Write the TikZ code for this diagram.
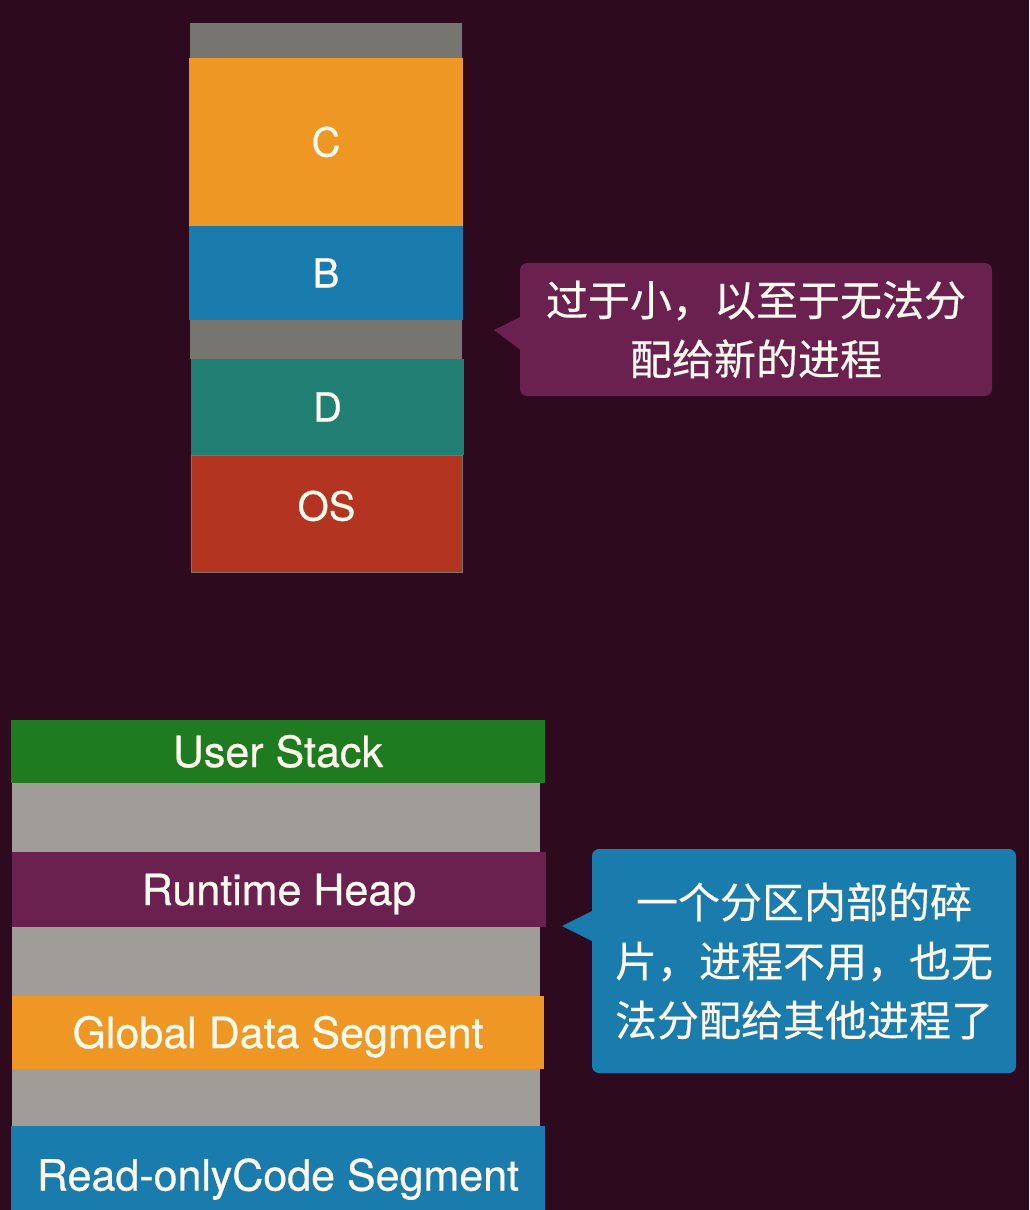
\documentclass[tikz,border=0pt]{standalone}
\usepackage{fontspec}
\setmainfont{TeX Gyre Heros}[FakeBold=0.6]
\newfontfamily\cjk{Noto Sans CJK SC}[FakeBold=0.4]
\definecolor{bgc}{HTML}{2D0A1D}
\definecolor{graytop}{HTML}{77756F}
\definecolor{orangec}{HTML}{EE9724}
\definecolor{bluec}{HTML}{1A7BAD}
\definecolor{tealc}{HTML}{217F73}
\definecolor{redc}{HTML}{B23421}
\definecolor{greenc}{HTML}{1F7B1F}
\definecolor{purplec}{HTML}{6A2150}
\definecolor{lgray}{HTML}{A09D98}
\definecolor{txtc}{HTML}{FFF9EE}
\tikzset{
  blk/.style={anchor=north west, inner sep=0pt, outer sep=0pt, text=txtc},
  toplbl/.style={font=\fontsize{40}{48}\selectfont, text height=29pt, text depth=0pt},
  botlbl/.style={font=\fontsize{43}{50}\selectfont, text height=31pt, text depth=0pt},
  callbox/.style={anchor=north west, inner sep=0pt, outer sep=0pt, rounded corners=7pt,
     text=txtc, align=center, font={\cjk\fontsize{42}{59}\selectfont}},
}
\begin{document}
\begin{tikzpicture}[x=1pt,y=-1pt]
\path[use as bounding box, clip] (0,0) rectangle (1029,1210);
\fill[bgc] (0,0) rectangle (1029,1210);
% top stack
\node[blk, fill=graytop, minimum width=272pt, minimum height=35pt] (gt1) at (190,23) {};
\node[blk, toplbl, fill=orangec, minimum width=274pt, minimum height=168pt] (c) at (189,58) {C};
\node[blk, toplbl, fill=bluec, minimum width=274pt, minimum height=94pt] (b) at (189,226) {B};
\node[blk, fill=graytop, minimum width=272pt, minimum height=39pt] (gt2) at (190,320) {};
\node[blk, toplbl, fill=tealc, minimum width=273pt, minimum height=96pt] (d) at (191,359) {D};
\node[blk, toplbl, text depth=15pt, fill=redc, draw=graytop, line width=0.8pt, minimum width=271pt, minimum height=117pt] (os) at (191,455) {OS};
% callout 1
\node[callbox, fill=purplec, minimum width=472pt, minimum height=133pt] (cb1) at (520,263) {过于小，以至于无法分\\配给新的进程};
\coordinate (tip1) at (494,330);
\fill[purplec] ([xshift=2pt,yshift=-53pt]cb1.north west) -- (tip1) -- ([xshift=2pt,yshift=-88pt]cb1.north west) -- cycle;
% bottom stack
\node[blk, botlbl, fill=greenc, minimum width=534pt, minimum height=63pt] (us) at (11,720) {User Stack};
\node[blk, fill=lgray, minimum width=528pt, minimum height=69pt] (g1) at (12,783) {};
\node[blk, botlbl, fill=purplec, minimum width=534pt, minimum height=75pt] (rh) at (12,852) {Runtime Heap};
\node[blk, fill=lgray, minimum width=528pt, minimum height=69pt] (g2) at (12,927) {};
\node[blk, botlbl, fill=orangec, minimum width=532pt, minimum height=73pt] (gd) at (12,996) {Global Data Segment};
\node[blk, fill=lgray, minimum width=528pt, minimum height=57pt] (g3) at (12,1069) {};
\node[blk, botlbl, fill=bluec, minimum width=534pt, minimum height=98pt] (ro) at (11,1126) {Read-onlyCode Segment};
% callout 2
\node[callbox, fill=bluec, minimum width=424pt, minimum height=224pt] (cb2) at (592,849) {一个分区内部的碎\\片，进程不用，也无\\法分配给其他进程了};
\coordinate (tip2) at (562,926);
\fill[bluec] ([xshift=2pt,yshift=-61pt]cb2.north west) -- (tip2) -- ([xshift=2pt,yshift=-93pt]cb2.north west) -- cycle;
\end{tikzpicture}
\end{document}
